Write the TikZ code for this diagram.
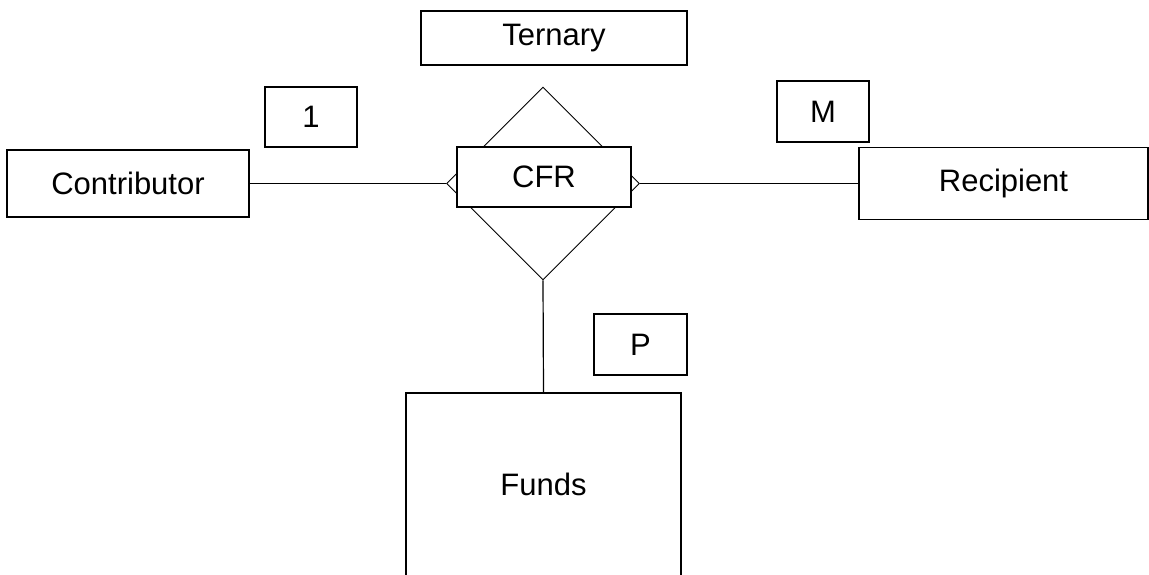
\documentclass[tikz,border=0pt]{standalone}
\usepackage{fontspec}
\setmainfont{Liberation Sans}
\usetikzlibrary{shapes.geometric}
\begin{document}
\begin{tikzpicture}[x=1pt,y=-1pt,
  box/.style={draw,line width=1.4pt,fill=white,inner sep=0pt,
    font=\fontsize{31}{37}\selectfont},
  rel/.style={draw,diamond,line width=0.9pt,inner sep=0pt,aspect=1},
  link/.style={line width=1.2pt}]
\useasboundingbox (0,0) rectangle (1149,575);
\clip (0,0) rectangle (1149,575);
% relationship diamond with its name box on top
\node[rel,minimum width=193pt,minimum height=193pt] (rel) at (543,183.5) {};
\node[box,minimum width=174pt,minimum height=60pt] (cfr) at (544,177) {CFR};
% entities
\node[box,minimum width=242pt,minimum height=67pt] (contrib) at (128,183.5) {Contributor};
\node[box,minimum width=289pt,minimum height=72pt] (recip) at (1003.5,183.5) {Recipient};
\node[box,minimum width=275pt,minimum height=183pt] (funds) at (543.5,484.5) {Funds};
% labels
\node[box,minimum width=266pt,minimum height=54pt] (tern) at (554,38) {Ternary};
\node[box,minimum width=92pt,minimum height=60pt] (one) at (311,117) {1};
\node[box,minimum width=92pt,minimum height=61pt] (many) at (823,111.5) {M};
\node[box,minimum width=93pt,minimum height=61pt] (pmany) at (640.5,344.5) {P};
% connectors
\draw[link] (contrib.east) -- (rel.west);
\draw[link] (rel.east) -- (recip.west);
\draw[link] (rel.south) -- (funds.north);
\end{tikzpicture}
\end{document}
